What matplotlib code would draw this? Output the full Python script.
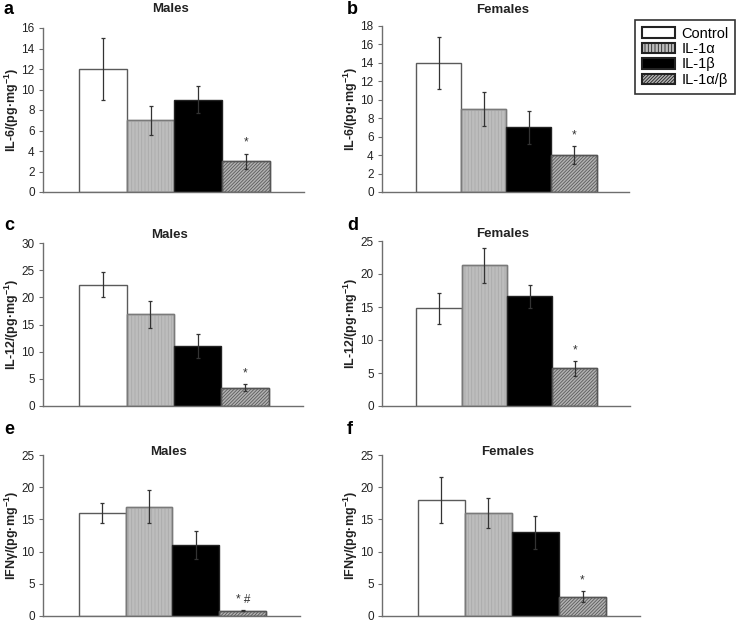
import numpy as np
import matplotlib
matplotlib.use("Agg")
import matplotlib.pyplot as plt
from matplotlib.patches import Patch

plt.rcParams['font.family'] = ['Liberation Sans', 'DejaVu Sans']
plt.rcParams['hatch.linewidth'] = 0.6
plt.rcParams['mathtext.fontset'] = 'custom'
plt.rcParams['mathtext.rm'] = 'Liberation Sans'
plt.rcParams['mathtext.bf'] = 'Liberation Sans:bold'

groups = ['Control', 'IL-1\u03b1', 'IL-1\u03b2', 'IL-1\u03b1/\u03b2']

# panel data: means and SEM
il6_m_mean = [12.0, 7.0, 9.0, 3.0]
il6_m_err = [3.0, 1.4, 1.3, 0.75]
il6_f_mean = [14.0, 9.0, 7.0, 4.0]
il6_f_err = [2.8, 1.8, 1.8, 1.0]
il12_m_mean = [22.3, 16.9, 11.0, 3.4]
il12_m_err = [2.3, 2.5, 2.2, 0.6]
il12_f_mean = [14.8, 21.3, 16.6, 5.7]
il12_f_err = [2.3, 2.6, 1.7, 1.1]
ifn_m_mean = [16.0, 17.0, 11.0, 0.8]
ifn_m_err = [1.6, 2.5, 2.2, 0.1]
ifn_f_mean = [18.0, 16.0, 13.0, 3.0]
ifn_f_err = [3.6, 2.4, 2.6, 0.9]

sig_marks = ['*', '*', '*', '*', '* #', '*']

W, H = 746, 622
fig = plt.figure(figsize=(W / 100, H / 100), dpi=100)

def px_axes(left, right, top, bottom):
    return fig.add_axes([left / W, 1 - bottom / H, (right - left) / W, (bottom - top) / H])

unit = '/(pg\u00b7mg$^{\\mathbf{-1}}$)'
# (letter, title, ylabel, means, errs, ymax, step, axes box px, title y px, letter xy px)
panels = [
    ('a', 'Males', 'IL-6' + unit, il6_m_mean, il6_m_err, 16, 2,
     (43, 304, 28, 192), 9, (4, 9)),
    ('b', 'Females', 'IL-6' + unit, il6_f_mean, il6_f_err, 18, 2,
     (382, 629, 26, 192), 10, (347, 10)),
    ('c', 'Males', 'IL-12' + unit, il12_m_mean, il12_m_err, 30, 5,
     (43, 303, 243, 406), 235, (4, 225)),
    ('d', 'Females', 'IL-12' + unit, il12_f_mean, il12_f_err, 25, 5,
     (382, 630, 241, 406), 234, (347, 225)),
    ('e', 'Males', 'IFN\u03b3' + unit, ifn_m_mean, ifn_m_err, 25, 5,
     (43, 300, 455, 616), 452, (4, 430)),
    ('f', 'Females', 'IFN\u03b3' + unit, ifn_f_mean, ifn_f_err, 25, 5,
     (382, 640, 455, 616), 452, (347, 430)),
]

faces = ['white', '#bdbdbd', 'black', '#b2b2b2']
edges = ['#5a5a5a', '#7a7a7a', '#222222', '#555555']
hatches = [None, '|||||', None, '//////////']
hatch_cols = [None, '#aaaaaa', None, '#5a5a5a']

x = np.arange(4)
for i, (letter, title, ylab, means, errs, ymax, step, box, ty, lxy) in enumerate(panels):
    ax = px_axes(*box)
    for j in range(4):
        ax.bar(x[j], means[j], width=1.0, color=faces[j], edgecolor=edges[j], linewidth=1.0, zorder=2)
        if hatches[j]:
            ax.bar(x[j], means[j], width=1.0, fill=False, hatch=hatches[j],
                   edgecolor=hatch_cols[j], linewidth=0, zorder=2)
            ax.bar(x[j], means[j], width=1.0, fill=False, edgecolor=edges[j], linewidth=1.0, zorder=2)
    ax.errorbar(x, means, yerr=errs, fmt='none', ecolor='#333333', elinewidth=0.9,
                capsize=1.5, capthick=0.9, zorder=3)
    ax.text(x[3], means[3] + errs[3] + 0.065 * ymax, sig_marks[i], ha='center', va='center',
            fontsize=8.5, color='#333333')
    ax.set_xlim(-1.26, 4.22)
    ax.set_ylim(0, ymax)
    ax.set_yticks(np.arange(0, ymax + 1, step))
    ax.set_xticks([])
    for s in ['top', 'right']:
        ax.spines[s].set_visible(False)
    for s in ['left', 'bottom']:
        ax.spines[s].set_color('#6e6e6e')
        ax.spines[s].set_linewidth(1.0)
    ax.tick_params(axis='y', length=3, width=0.8, color='#6e6e6e', labelsize=8.5,
                   labelcolor='#222222', pad=3)
    ax.set_ylabel(ylab, fontsize=9, fontweight='bold', color='#222222')
    ax.yaxis.set_label_coords(-22 / (box[1] - box[0]), 0.5)
    cx = (box[0] + box[1]) / 2 - 3
    fig.text(cx / W, 1 - ty / H, title, ha='center', va='center', fontsize=9.5,
             fontweight='bold', color='#222222')
    fig.text(lxy[0] / W, 1 - lxy[1] / H, letter, ha='left', va='center', fontsize=13,
             fontweight='bold', color='black')

handles = [Patch(facecolor=faces[j], edgecolor='#222222', hatch=hatches[j], linewidth=1.5)
           for j in range(4)]
leg = fig.legend(handles, groups, loc='upper left', bbox_to_anchor=(635 / W, 1 - 20 / H),
                 frameon=True, fancybox=False, edgecolor='black', fontsize=10.5,
                 handlelength=2.3, handleheight=0.75, handletextpad=0.45,
                 borderpad=0.45, labelspacing=0.1, borderaxespad=0)
leg.get_frame().set_linewidth(1.2)

fig.savefig('out.png', dpi=100)
